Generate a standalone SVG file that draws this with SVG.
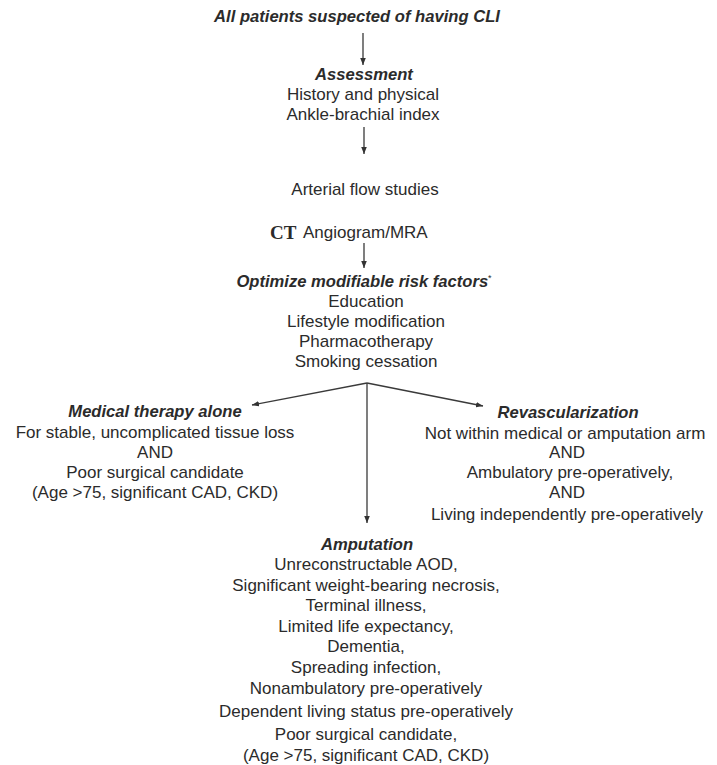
<svg xmlns="http://www.w3.org/2000/svg" width="717" height="765" viewBox="0 0 717 765">
<defs>
<marker id="ah" viewBox="0 0 10 10" refX="10" refY="5" markerWidth="7" markerHeight="7" markerUnits="userSpaceOnUse" orient="auto">
<path d="M0,1 L10,5 L0,9 z" fill="#333"/>
</marker>
<style>
text{font-family:"Liberation Sans",Arial,sans-serif;font-size:17px;fill:#2b2b2b;text-anchor:middle}
.h{font-weight:bold;font-style:italic;font-size:16.6px}
.ct{font-family:"Liberation Serif","Times New Roman",serif;font-weight:bold;font-size:19px;text-anchor:start}
.s{text-anchor:start}
.l{stroke:#3a3a3a;stroke-width:1.3;fill:none}
</style>
</defs>
<rect width="717" height="765" fill="#fff"/>
<g id="start"><text class="h" x="357" y="22">All patients suspected of having CLI</text></g>
<g id="assessment">
<text class="h" x="364" y="80">Assessment</text>
<text x="363" y="100">History and physical</text>
<text x="363" y="120">Ankle-brachial index</text>
</g>
<g id="flow"><text x="365" y="195">Arterial flow studies</text></g>
<g id="angio">
<text class="ct" x="270" y="239">CT</text>
<text class="s" x="303" y="238">Angiogram/MRA</text>
</g>
<g id="optimize">
<text class="h" x="364" y="287">Optimize modifiable risk factors<tspan font-size="9" font-weight="normal" font-style="normal" dy="-6">*</tspan></text>
<text x="366" y="307">Education</text>
<text x="366" y="327">Lifestyle modification</text>
<text x="366" y="347">Pharmacotherapy</text>
<text x="366" y="367">Smoking cessation</text>
</g>
<g id="medical">
<text class="h" x="155" y="417">Medical therapy alone</text>
<text x="155" y="438">For stable, uncomplicated tissue loss</text>
<text x="155" y="458">AND</text>
<text x="155" y="478">Poor surgical candidate</text>
<text x="155" y="498">(Age &gt;75, significant CAD, CKD)</text>
</g>
<g id="revasc">
<text class="h" x="568" y="418">Revascularization</text>
<text x="565" y="439">Not within medical or amputation arm</text>
<text x="567" y="458">AND</text>
<text x="570" y="478">Ambulatory pre-operatively,</text>
<text x="567" y="498">AND</text>
<text x="567" y="520">Living independently pre-operatively</text>
</g>
<g id="amputation">
<text class="h" x="367" y="550">Amputation</text>
<text x="366" y="570">Unreconstructable AOD,</text>
<text x="366" y="591">Significant weight-bearing necrosis,</text>
<text x="366" y="611">Terminal illness,</text>
<text x="366" y="632">Limited life expectancy,</text>
<text x="366" y="652">Dementia,</text>
<text x="366" y="673">Spreading infection,</text>
<text x="366" y="694">Nonambulatory pre-operatively</text>
<text x="366" y="717">Dependent living status pre-operatively</text>
<text x="366" y="740">Poor surgical candidate,</text>
<text x="366" y="761">(Age &gt;75, significant CAD, CKD)</text>
</g>
<g id="connectors">
<path class="l" d="M363,33 L363,65" marker-end="url(#ah)"/>
<path class="l" d="M364,127 L364,154" marker-end="url(#ah)"/>
<path class="l" d="M364,243 L364,268" marker-end="url(#ah)"/>
<path class="l" d="M367,383 L252,405" marker-end="url(#ah)"/>
<path class="l" d="M367,383 L483,406" marker-end="url(#ah)"/>
<path class="l" d="M367,383 L367,523" marker-end="url(#ah)"/>
</g>
</svg>
